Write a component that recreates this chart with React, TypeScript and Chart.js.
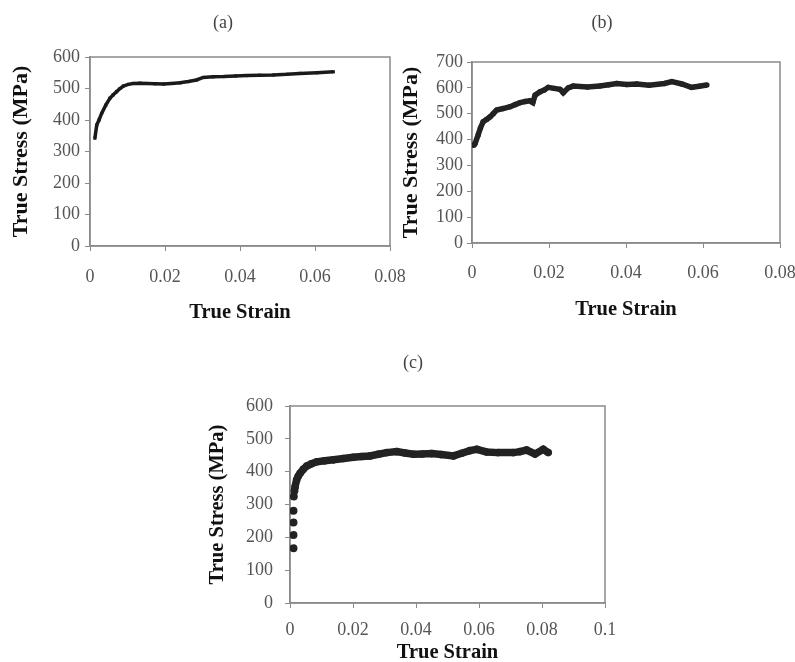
import React, { useEffect, useRef } from "react";
import { Chart, registerables } from "chart.js";

Chart.register(...registerables);

// ---- Data ----
const strainA = [0.0013, 0.0018, 0.0024, 0.0031, 0.0042, 0.0053, 0.0062, 0.0071, 0.008, 0.0089, 0.0102, 0.0115, 0.0133, 0.0151, 0.0174, 0.0196, 0.0218, 0.024, 0.0262, 0.0284, 0.0302, 0.0328, 0.0356, 0.0388, 0.0418, 0.0452, 0.0489, 0.0525, 0.056, 0.0605, 0.0649];
const stressA = [342, 384, 400, 421, 447, 469, 480, 490, 500, 508, 513, 516, 517, 516, 515, 514, 516, 518, 522, 527, 535, 537, 538, 540, 541, 542, 543, 545, 548, 550, 553];

const strainB = [0.0005, 0.0008, 0.0016, 0.0022, 0.0029, 0.0038, 0.0047, 0.0055, 0.0064, 0.0081, 0.0099, 0.0112, 0.0125, 0.0138, 0.015, 0.0158, 0.0164, 0.0177, 0.0188, 0.0198, 0.0213, 0.0229, 0.0237, 0.025, 0.0263, 0.03, 0.0332, 0.0355, 0.0376, 0.0402, 0.0428, 0.046, 0.05, 0.0519, 0.0545, 0.057, 0.059, 0.061];
const stressB = [378, 385, 418, 445, 469, 478, 488, 500, 514, 520, 527, 535, 543, 547, 550, 543, 572, 585, 592, 602, 598, 594, 581, 600, 607, 603, 607, 612, 617, 613, 615, 610, 617, 624, 615, 602, 606, 611];

const strainC0 = [0.0011, 0.0011, 0.0011, 0.0011, 0.0012];
const stressC0 = [167, 207, 245, 281, 324];

const strainC = [0.0014, 0.0016, 0.0021, 0.0026, 0.0032, 0.0042, 0.0053, 0.0068, 0.0085, 0.011, 0.0138, 0.017, 0.0201, 0.0228, 0.0254, 0.028, 0.0307, 0.0339, 0.0365, 0.0392, 0.042, 0.045, 0.048, 0.0519, 0.0545, 0.0571, 0.0593, 0.0624, 0.066, 0.0709, 0.073, 0.0751, 0.0778, 0.0804, 0.082];
const stressC = [340, 354, 375, 386, 395, 407, 417, 424, 430, 433, 436, 440, 444, 446, 448, 453, 458, 461, 457, 453, 454, 455, 452, 448, 456, 464, 468, 460, 458, 458, 461, 466, 454, 468, 458];

const yTicksA = [0, 600, 100];
const yTicksB = [0, 700, 100];
const yTicksC = [0, 600, 100];
const xTicksAB = [0, 0.08, 0.02];
const xTicksC = [0, 0.1, 0.02];

const xTitle = "True Strain";
const yTitle = "True Stress (MPa)";

const SERIF = "'Liberation Serif', 'Times New Roman', serif";

const boxPlugin = {
  id: "plotBox",
  beforeDatasetsDraw(chart: any) {
    const { ctx, chartArea } = chart;
    const { left, top, right, bottom } = chartArea;
    ctx.save();
    ctx.strokeStyle = "#8a8a8a";
    ctx.lineWidth = 1.5;
    ctx.strokeRect(left, top, right - left, bottom - top);
    ctx.restore();
  },
};

function fmt(v: any) {
  const n = Number(v);
  if (Math.abs(n) < 1e-9) return "0";
  return String(parseFloat(n.toFixed(3)));
}

type PanelOpts = {
  datasets: any[];
  xr: number[];
  yr: number[];
  pad: { top: number; right: number; bottom: number; left: number };
  yWidth: number;
  xHeight: number;
  yTitlePad: number;
  yTitleSize: number;
  xTitlePad: number;
  xTickLH: number;
  yTickPad: number;
};

const TICK_SIZE = 18;
const X_TITLE_SIZE = 20.5;

function makeConfig(o: PanelOpts): any {
  return {
    type: "scatter",
    data: { datasets: o.datasets },
    plugins: [boxPlugin],
    options: {
      responsive: false,
      animation: false,
      events: [],
      layout: { padding: o.pad },
      plugins: { legend: { display: false }, tooltip: { enabled: false }, title: { display: false } },
      scales: {
        x: {
          type: "linear",
          min: o.xr[0],
          max: o.xr[1],
          afterFit: (s: any) => { s.height = o.xHeight; },
          ticks: {
            stepSize: o.xr[2],
            color: "#555",
            font: { family: SERIF, size: TICK_SIZE, lineHeight: o.xTickLH / TICK_SIZE },
            padding: 0,
            callback: fmt,
            maxRotation: 0,
          },
          grid: { drawOnChartArea: false, drawTicks: true, tickLength: 5, color: "#8a8a8a" },
          border: { color: "#8a8a8a", width: 1.5 },
          title: {
            display: true,
            text: xTitle,
            color: "#111",
            font: { family: SERIF, size: X_TITLE_SIZE, weight: "bold" },
            padding: { top: 0, bottom: o.xTitlePad },
          },
        },
        y: {
          type: "linear",
          min: o.yr[0],
          max: o.yr[1],
          afterFit: (s: any) => { s.width = o.yWidth; },
          ticks: { stepSize: o.yr[2], color: "#555", font: { family: SERIF, size: TICK_SIZE }, padding: o.yTickPad, callback: fmt },
          grid: { drawOnChartArea: false, drawTicks: true, tickLength: 5, color: "#8a8a8a" },
          border: { color: "#8a8a8a", width: 1.5 },
          title: {
            display: true,
            text: yTitle,
            color: "#111",
            font: { family: SERIF, size: o.yTitleSize, weight: "bold" },
            padding: { top: o.yTitlePad, bottom: 0 },
          },
        },
      },
    },
  };
}

function pts(xs: number[], ys: number[]) {
  return xs.map((x, i) => ({ x, y: ys[i] }));
}

function Panel(props: { opts: PanelOpts; left: number; top: number; width: number; height: number }) {
  const ref = useRef<HTMLCanvasElement>(null);
  useEffect(() => {
    const chart = new Chart(ref.current as HTMLCanvasElement, makeConfig(props.opts));
    return () => chart.destroy();
  }, []);
  return (
    <canvas
      ref={ref}
      width={props.width}
      height={props.height}
      style={{ position: "absolute", left: props.left, top: props.top, width: props.width, height: props.height }}
    />
  );
}

const labelStyle: React.CSSProperties = {
  position: "absolute",
  fontFamily: SERIF,
  fontSize: 18,
  color: "#444",
  transform: "translate(-50%, -50%)",
  whiteSpace: "nowrap",
  lineHeight: 1,
};

export default function App() {
  const optsA: PanelOpts = {
    datasets: [
      {
        data: pts(strainA, stressA),
        showLine: true,
        borderColor: "#1a1a1a",
        borderWidth: 3.5,
        backgroundColor: "#1a1a1a",
        pointRadius: 2.2,
        pointStyle: "rect",
        pointBorderWidth: 0,
      },
    ],
    xr: xTicksAB,
    yr: yTicksA,
    pad: { top: 57, right: 30, bottom: 0, left: 0 },
    yWidth: 90,
    xHeight: 84,
    yTitlePad: 8,
    yTitleSize: 22,
    xTitlePad: 4.7,
    xTickLH: 2 * (277 - 246 - 5),
    yTickPad: 5,
  };
  const optsB: PanelOpts = {
    datasets: [
      {
        data: pts(strainB, stressB),
        showLine: true,
        borderColor: "#222",
        borderWidth: 5.5,
        backgroundColor: "#222",
        pointRadius: 2.7,
        pointBorderWidth: 0,
      },
    ],
    xr: xTicksAB,
    yr: yTicksB,
    pad: { top: 62, right: 17, bottom: 0, left: 0 },
    yWidth: 76,
    xHeight: 87,
    yTitlePad: 1.8,
    yTitleSize: 22,
    xTitlePad: 7.7,
    xTickLH: 2 * (273 - 243 - 5),
    yTickPad: 4,
  };
  const optsC: PanelOpts = {
    datasets: [
      {
        data: pts(strainC0, stressC0),
        showLine: false,
        backgroundColor: "#222",
        borderColor: "#222",
        pointRadius: 4,
        pointBorderWidth: 0,
      },
      {
        data: pts(strainC, stressC),
        showLine: true,
        borderColor: "#222",
        borderWidth: 7.5,
        backgroundColor: "#222",
        pointRadius: 3.8,
        pointBorderWidth: 0,
      },
    ],
    xr: xTicksC,
    yr: yTicksC,
    pad: { top: 76, right: 15, bottom: 0, left: 0 },
    yWidth: 110,
    xHeight: 63,
    yTitlePad: 25.7,
    yTitleSize: 20.5,
    xTitlePad: 0.7,
    xTickLH: 2 * (630 - 603 - 5),
    yTickPad: 12,
  };

  return (
    <div style={{ position: "absolute", left: 0, top: 0, width: 795, height: 662, overflow: "hidden", background: "#fff" }}>
      <Panel opts={optsA} left={0} top={0} width={420} height={330} />
      <Panel opts={optsB} left={396} top={0} width={401} height={330} />
      <Panel opts={optsC} left={180} top={330} width={440} height={336} />
      <div style={{ ...labelStyle, left: 223, top: 22 }}>(a)</div>
      <div style={{ ...labelStyle, left: 602, top: 22 }}>(b)</div>
      <div style={{ ...labelStyle, left: 413, top: 362 }}>(c)</div>
    </div>
  );
}
